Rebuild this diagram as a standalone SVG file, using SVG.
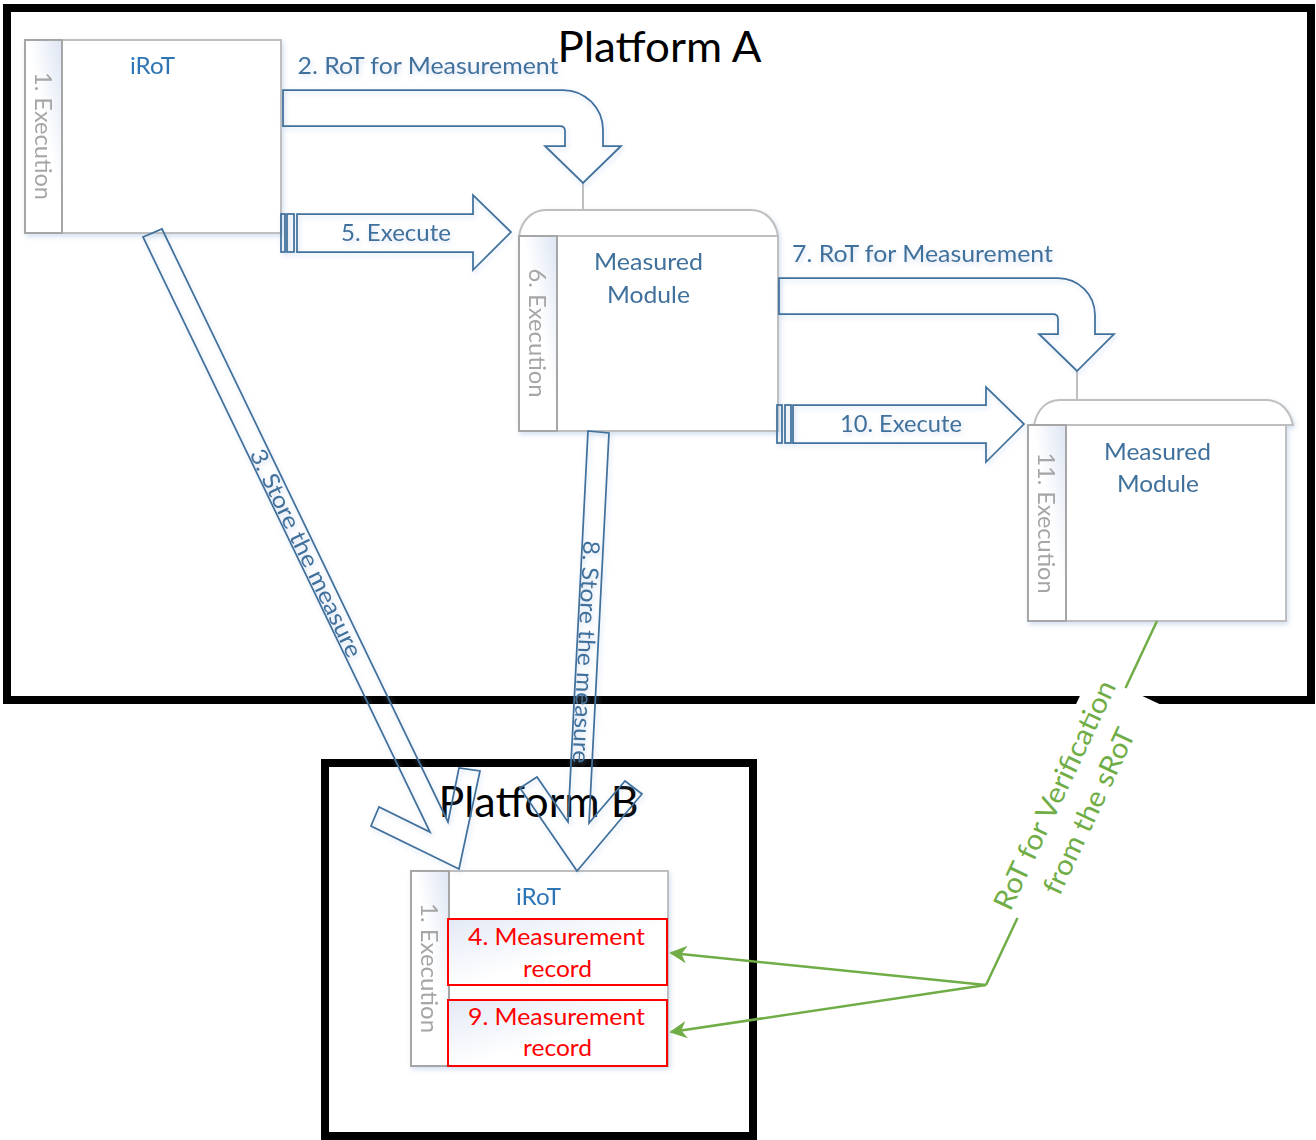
<svg xmlns="http://www.w3.org/2000/svg" width="1316" height="1140" viewBox="0 0 1316 1140">
  <defs>
    <linearGradient id="stripFill" x1="1" y1="0" x2="0" y2="1">
      <stop offset="0" stop-color="#DDE5F3"/>
      <stop offset="0.45" stop-color="#FFFFFF"/>
    </linearGradient>
    <linearGradient id="recordFill" x1="0" y1="0" x2="1" y2="1">
      <stop offset="0" stop-color="#E3E9F5"/>
      <stop offset="0.55" stop-color="#FFFFFF"/>
    </linearGradient>
    <filter id="glow" x="-10%" y="-10%" width="130%" height="130%">
      <feDropShadow dx="1.5" dy="2.5" stdDeviation="2.5" flood-color="#9DB9E0" flood-opacity="0.45"/>
    </filter>
    <marker id="greenHead" viewBox="0 0 10 10" refX="9" refY="5" markerWidth="7" markerHeight="7" orient="auto" markerUnits="strokeWidth">
      <path d="M0,0 L10,5 L0,10 L3,5 Z" fill="#70AD47"/>
    </marker>
    <style>
      .frame { fill: none; stroke: #000; stroke-width: 8; }
      .plat { font-family: Lato, "Open Sans", "Liberation Sans", sans-serif; font-size: 42px; fill: #000; text-anchor: middle; }
      .box { fill: #fff; stroke: #BFBFBF; stroke-width: 2; }
      .tab { fill: #fff; stroke: #BFBFBF; stroke-width: 2; }
      .strip { fill: url(#stripFill); stroke: #A6A6A6; stroke-width: 2; }
      .lbl { font-family: Lato, "Open Sans", "Liberation Sans", sans-serif; font-size: 23px; fill: #41719C; text-anchor: middle; }
      .irot { fill: #2E75B6; }
      .exec { fill: #A6A6A6; }
      .red { fill: #FF0000; }
      .rec { fill: url(#recordFill); stroke: #FF0000; stroke-width: 2; }
      .blk { fill: none; stroke: #41719C; stroke-width: 1.75; stroke-linejoin: miter; }
      .tie { stroke: #BFBFBF; stroke-width: 2; fill: none; }
      .green { fill: none; stroke: #70AD47; stroke-width: 2.5; }
      .gtxt { font-size: 28px; fill: #70AD47; }
    </style>
  </defs>

  <rect width="1316" height="1140" fill="#fff"/>

  <!-- platform containers -->
  <g id="platform-a">
    <rect class="frame" x="7" y="8" width="1304" height="692"/>
    <text class="plat" x="659.5" y="62" textLength="204" lengthAdjust="spacingAndGlyphs">Platform A</text>
  </g>
  <g id="platform-b">
    <rect class="frame" x="325" y="763" width="428" height="373"/>
  </g>

  <!-- initial RoT on platform A -->
  <g id="node-irot-a" filter="url(#glow)">
    <rect class="box" x="25" y="40" width="256" height="193"/>
    <rect class="strip" x="25" y="40" width="37" height="193"/>
    <text class="lbl irot" x="152.5" y="74" textLength="45" lengthAdjust="spacingAndGlyphs">iRoT</text>
    <text class="lbl exec" transform="translate(43,136) rotate(90)" y="8" textLength="128" lengthAdjust="spacingAndGlyphs">1. Execution</text>
  </g>

  <!-- first measured module -->
  <g id="node-module-1" filter="url(#glow)">
    <path class="tab" d="M519,236 C521,222 531,210 546,210 L751,210 C766,210 776,222 778,236 Z"/>
    <rect class="box" x="519" y="236" width="259" height="195"/>
    <rect class="strip" x="519" y="236" width="38" height="195"/>
    <text class="lbl" x="648.5" y="270" textLength="109" lengthAdjust="spacingAndGlyphs">Measured</text>
    <text class="lbl" x="648.5" y="303" textLength="83" lengthAdjust="spacingAndGlyphs">Module</text>
    <text class="lbl exec" transform="translate(537,333) rotate(90)" y="8" textLength="129" lengthAdjust="spacingAndGlyphs">6. Execution</text>
  </g>

  <!-- second measured module -->
  <g id="node-module-2" filter="url(#glow)">
    <path class="tab" d="M1034,425 C1037,410 1046,400 1060,400 L1266,400 C1281,400 1290,411 1293,425 Z"/>
    <rect class="box" x="1028" y="425" width="258" height="196"/>
    <rect class="strip" x="1028" y="425" width="38" height="196"/>
    <text class="lbl" x="1157.5" y="460" textLength="107" lengthAdjust="spacingAndGlyphs">Measured</text>
    <text class="lbl" x="1158" y="492" textLength="82" lengthAdjust="spacingAndGlyphs">Module</text>
    <text class="lbl exec" transform="translate(1046,523) rotate(90)" y="8" textLength="141" lengthAdjust="spacingAndGlyphs">11. Execution</text>
  </g>

  <!-- RoT on platform B holding the measurement records -->
  <g id="node-irot-b" filter="url(#glow)">
    <rect class="box" x="411" y="871" width="257" height="195"/>
    <rect class="strip" x="411" y="871" width="38" height="195"/>
    <text class="lbl irot" x="538.5" y="905" textLength="45" lengthAdjust="spacingAndGlyphs">iRoT</text>
    <text class="lbl exec" transform="translate(429,968) rotate(90)" y="8" textLength="130" lengthAdjust="spacingAndGlyphs">1. Execution</text>
  </g>
  <g id="node-record-4">
    <rect class="rec" x="448" y="919" width="219" height="66"/>
    <text class="lbl red" x="556.5" y="945" textLength="177" lengthAdjust="spacingAndGlyphs">4. Measurement</text>
    <text class="lbl red" x="557.5" y="977" textLength="69" lengthAdjust="spacingAndGlyphs">record</text>
  </g>
  <g id="node-record-9">
    <rect class="rec" x="448" y="1000" width="219" height="66"/>
    <text class="lbl red" x="556.5" y="1025" textLength="177" lengthAdjust="spacingAndGlyphs">9. Measurement</text>
    <text class="lbl red" x="557.5" y="1056" textLength="69" lengthAdjust="spacingAndGlyphs">record</text>
  </g>

  <g id="platform-b-title">
    <text class="plat" x="538.5" y="817" textLength="200" lengthAdjust="spacingAndGlyphs">Platform B</text>
  </g>

  <!-- connectors -->
  <g id="connectors">
    <!-- short ties from arrow tips to the module tabs -->
    <line class="tie" x1="583" y1="183" x2="583" y2="210"/>
    <line class="tie" x1="1077" y1="371" x2="1077" y2="400"/>

    <g filter="url(#glow)">
      <!-- 2. RoT for Measurement -->
      <path class="blk" d="M283,90 L563,90 A40,40 0 0 1 603,130 L603,146 L621,146 L583,183 L545,146 L565,146 L565,131 Q565,126 560,126 L283,126 Z"/>
      <text class="lbl" x="428" y="74" textLength="261" lengthAdjust="spacingAndGlyphs">2. RoT for Measurement</text>

      <!-- 5. Execute -->
      <rect class="blk" x="281" y="214" width="4" height="38"/>
      <rect class="blk" x="287" y="214" width="7" height="38"/>
      <path class="blk" d="M297,214 L473,214 L473,195 L511,232 L473,270 L473,252 L297,252 Z"/>
      <text class="lbl" x="396" y="241" textLength="110" lengthAdjust="spacingAndGlyphs">5. Execute</text>

      <!-- 7. RoT for Measurement -->
      <path class="blk" d="M779,278 L1058,278 A37,37 0 0 1 1095,315 L1095,334 L1114,334 L1077,371 L1039,334 L1058,334 L1058,319 Q1058,314 1053,314 L779,314 Z"/>
      <text class="lbl" x="922.5" y="262" textLength="261" lengthAdjust="spacingAndGlyphs">7. RoT for Measurement</text>

      <!-- 10. Execute -->
      <rect class="blk" x="777" y="405" width="5" height="38"/>
      <rect class="blk" x="785" y="405" width="6" height="38"/>
      <path class="blk" d="M793,405 L986,405 L986,387 L1024,424 L986,462 L986,443 L793,443 Z"/>
      <text class="lbl" x="901" y="432" textLength="122" lengthAdjust="spacingAndGlyphs">10. Execute</text>

      <!-- 3. Store the measure -->
      <path class="blk" d="M143,237 L162,229 L448,822 L459,768 L480,771 L459,869 L371,826 L379,807 L430,832 Z"/>
      <text class="lbl" transform="translate(306,553) rotate(64.2)" y="8" textLength="228" lengthAdjust="spacingAndGlyphs">3. Store the measure</text>

      <!-- 8. Store the measure -->
      <path class="blk" d="M588,431 L609,433 L589,823 L625,781 L642,794 L577,871 L520,788 L537,777 L568,822 Z"/>
      <text class="lbl" transform="translate(586,652) rotate(92.8)" y="8" textLength="223" lengthAdjust="spacingAndGlyphs">8. Store the measure</text>
    </g>

    <!-- RoT for Verification from the sRoT -->
    <polyline class="green" points="1157,621 986,985"/>
    <line class="green" x1="986" y1="985" x2="671" y2="953" marker-end="url(#greenHead)"/>
    <line class="green" x1="986" y1="985" x2="671" y2="1032" marker-end="url(#greenHead)"/>
    <g transform="translate(1071.5,803) rotate(-64.8)">
      <rect x="-127" y="-38" width="254" height="76" fill="#fff"/>
      <text class="lbl gtxt" x="0" y="-9" textLength="250" lengthAdjust="spacingAndGlyphs">RoT for Verification</text>
      <text class="lbl gtxt" x="0" y="29" textLength="180" lengthAdjust="spacingAndGlyphs">from the sRoT</text>
    </g>
  </g>
</svg>
